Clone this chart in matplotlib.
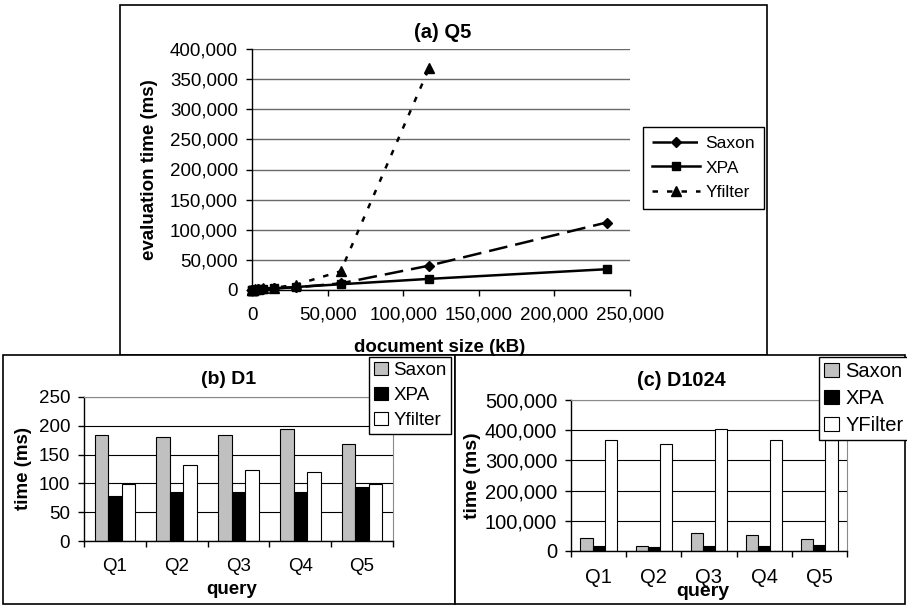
import matplotlib
matplotlib.use('Agg')
import matplotlib.pyplot as plt
from matplotlib.patches import Rectangle, Patch
from matplotlib.ticker import FuncFormatter
import numpy as np

plt.rcParams['font.family'] = ['Liberation Sans', 'DejaVu Sans']

# ---------------- data ----------------
doc_size = [114.5, 229, 458, 916, 1832, 3664, 7328, 14656, 29312, 58624, 117248, 234496]
saxon_time = [168, 250, 350, 550, 800, 1300, 2300, 2800, 4500, 11000, 40500, 112000]
xpa_time = [93, 140, 200, 330, 580, 1100, 1900, 2600, 5000, 9500, 18500, 34500]
yfilter_time = [99, 180, 300, 550, 1000, 1700, 2500, 3500, 9000, 31000, 369000]

queries = ['Q1', 'Q2', 'Q3', 'Q4', 'Q5']
d1_saxon = [184, 180, 184, 195, 168]
d1_xpa = [78, 85, 85, 85, 93]
d1_yfilter = [99, 132, 124, 119, 99]
d1024_saxon = [43000, 15000, 59000, 53000, 40000]
d1024_xpa = [16500, 13000, 16500, 16500, 20000]
d1024_yfilter = [369000, 354000, 403000, 366000, 369000]

# ---------------- layout helpers ----------------
W, H = 907, 605
fig = plt.figure(figsize=(W / 100, H / 100), dpi=100)


def fx(px):
    return px / W


def fy(py):
    return 1 - py / H


def box(x0, y0, x1, y1, z):
    r = Rectangle((fx(x0), fy(y1)), (x1 - x0) / W, (y1 - y0) / H,
                  transform=fig.transFigure, facecolor='white',
                  edgecolor='black', lw=1.2, zorder=z)
    fig.add_artist(r)


def axes_px(x0, y0, x1, y1):
    return [fx(x0), fy(y1), (x1 - x0) / W, (y1 - y0) / H]


comma = FuncFormatter(lambda v, p: '{:,.0f}'.format(v))
FS = 13.5

box(120, 5, 767, 355, -3)
box(3, 355, 455, 604, -2)
box(455, 355, 905, 604, -2)

# ---------------- (a) line chart ----------------
ax = fig.add_axes(axes_px(252, 49, 630, 290))
ax.set_facecolor('none')
ax.plot(doc_size, saxon_time, color='black', lw=1.8, dashes=(7.5, 3.2),
        marker='D', ms=5.5, label='Saxon', clip_on=False)
ax.plot(doc_size, xpa_time, color='black', lw=1.8, ls='-',
        marker='s', ms=6, label='XPA', clip_on=False)
ax.plot(doc_size[:len(yfilter_time)], yfilter_time, color='black', lw=1.8,
        dashes=(2.2, 3.6), marker='^', ms=7, label='Yfilter', clip_on=False)
ax.set_xlim(0, 250000)
ax.set_ylim(0, 400000)
ax.set_xticks(np.arange(0, 250001, 50000))
ax.set_yticks(np.arange(0, 400001, 50000))
ax.xaxis.set_major_formatter(comma)
ax.yaxis.set_major_formatter(comma)
ax.tick_params(axis='x', direction='out', length=4, width=1, labelsize=FS, pad=8)
ax.tick_params(axis='y', direction='out', length=4, width=1, labelsize=FS, pad=6)
ax.yaxis.grid(True, color='#6a6a6a', lw=1.0)
ax.set_axisbelow(True)
for s in ('top', 'right'):
    ax.spines[s].set_visible(False)
for s in ('left', 'bottom'):
    ax.spines[s].set_linewidth(1.0)
leg = ax.legend(loc='upper left', bbox_to_anchor=(fx(643), fy(127)),
                bbox_transform=fig.transFigure, fancybox=False, framealpha=1,
                edgecolor='black', fontsize=12.5, handlelength=2.8,
                handletextpad=0.3, labelspacing=0.55, borderpad=0.5,
                borderaxespad=0)
leg.get_frame().set_linewidth(1.0)

fig.text(fx(443), fy(33), '(a) Q5', ha='center', va='center',
         fontsize=14.5, fontweight='bold')
fig.text(fx(150), fy(170), 'evaluation time (ms)', ha='center', va='center',
         rotation=90, fontsize=FS, fontweight='bold')
fig.text(fx(440), fy(347), 'document size (kB)', ha='center', va='center',
         fontsize=FS, fontweight='bold')


# ---------------- bar panels ----------------
def bar_panel(rect, s_vals, x_vals, y_vals, ymax, ystep, labels, leg_anchor,
              fs, qpad):
    a = fig.add_axes(rect)
    idx = np.arange(len(queries))
    w = 0.22
    a.bar(idx - w, s_vals, w, color='#c0c0c0', edgecolor='black', lw=0.8)
    a.bar(idx, x_vals, w, color='black', edgecolor='black', lw=0.8)
    a.bar(idx + w, y_vals, w, color='white', edgecolor='black', lw=0.8)
    a.set_xlim(-0.5, len(queries) - 0.5)
    a.set_ylim(0, ymax)
    a.set_xticks(np.arange(-0.5, len(queries), 1))
    a.set_xticklabels([])
    a.set_xticks(idx, minor=True)
    a.set_xticklabels(queries, minor=True)
    a.tick_params(axis='x', which='minor', length=0, labelsize=fs, pad=qpad)
    a.tick_params(axis='x', which='major', length=4.5, width=1, direction='out')
    a.set_yticks(np.arange(0, ymax + 1, ystep))
    a.yaxis.set_major_formatter(comma)
    a.tick_params(axis='y', length=4.5, width=1, direction='out',
                  labelsize=fs, pad=5.5)
    a.yaxis.grid(True, color='black', lw=0.8)
    a.set_axisbelow(True)
    for s in ('top', 'right'):
        a.spines[s].set_color('#8a8a8a')
    for s in ('left', 'bottom'):
        a.spines[s].set_linewidth(1.0)
    handles = [Patch(facecolor='#c0c0c0', edgecolor='black', lw=0.8),
               Patch(facecolor='black', edgecolor='black', lw=0.8),
               Patch(facecolor='white', edgecolor='black', lw=0.8)]
    lg = fig.legend(handles, labels, loc='upper left', bbox_to_anchor=leg_anchor,
                    bbox_transform=fig.transFigure, fancybox=False, framealpha=1,
                    edgecolor='black', fontsize=fs, handlelength=0.75,
                    handleheight=0.75, handletextpad=0.3, labelspacing=0.4,
                    borderpad=0.25, borderaxespad=0)
    lg.get_frame().set_linewidth(1.0)
    lg.set_zorder(5)
    return a


bar_panel(axes_px(84, 397, 393, 541), d1_saxon, d1_xpa, d1_yfilter, 250, 50,
          ['Saxon', 'XPA', 'Yfilter'], (fx(369), fy(357)), 13.5, 12)
fig.text(fx(229), fy(380), '(b) D1', ha='center', va='center',
         fontsize=14, fontweight='bold')
fig.text(fx(23), fy(469), 'time (ms)', ha='center', va='center',
         rotation=90, fontsize=FS, fontweight='bold')
fig.text(fx(232), fy(590), 'query', ha='center', va='center',
         fontsize=FS, fontweight='bold')

bar_panel(axes_px(571, 400, 847, 551), d1024_saxon, d1024_xpa, d1024_yfilter,
          500000, 100000, ['Saxon', 'XPA', 'YFilter'], (fx(819), fy(357)),
          14.5, 12)
fig.text(fx(681), fy(380), '(c) D1024', ha='center', va='center',
         fontsize=14.3, fontweight='bold')
fig.text(fx(472), fy(476), 'time (ms)', ha='center', va='center',
         rotation=90, fontsize=14, fontweight='bold')
fig.text(fx(703), fy(591), 'query', ha='center', va='center',
         fontsize=14, fontweight='bold')

fig.savefig('out.png', dpi=100)
